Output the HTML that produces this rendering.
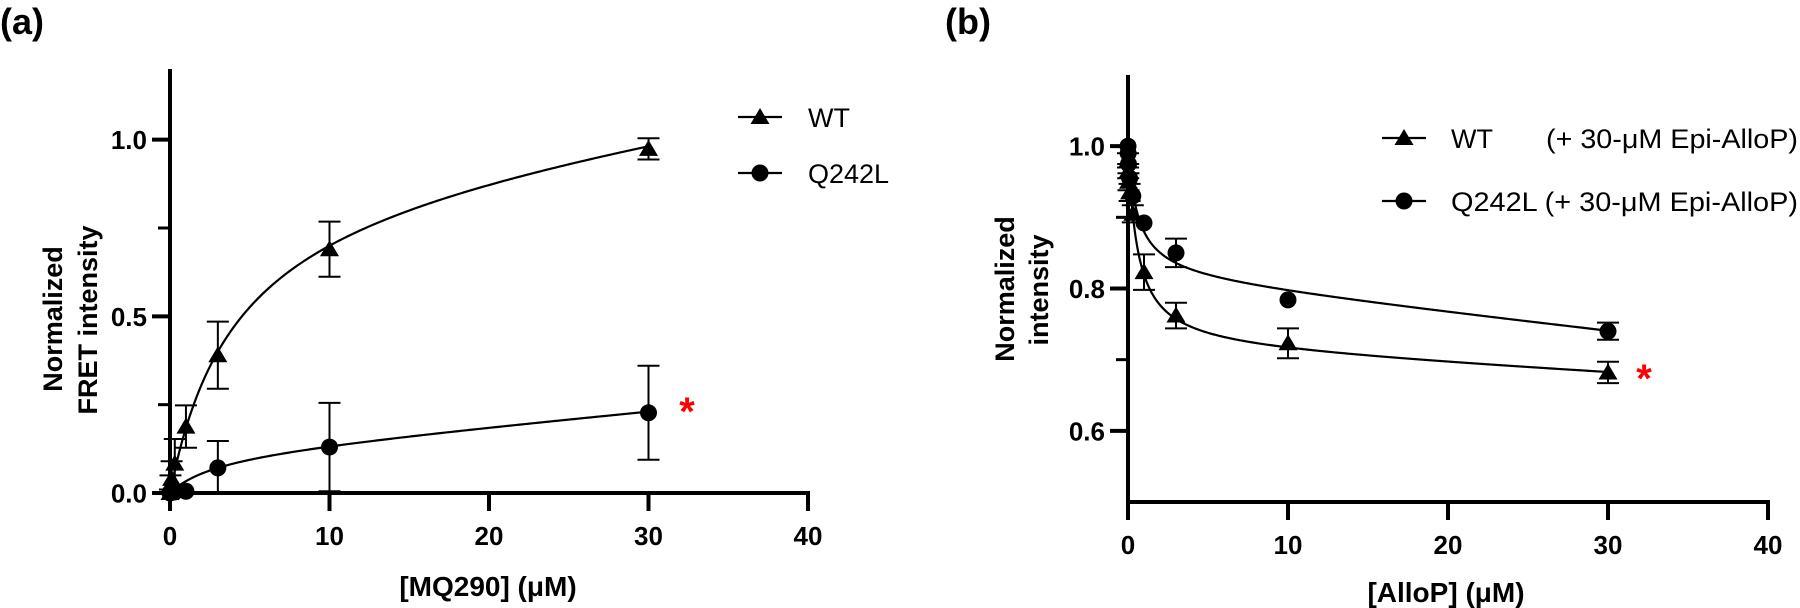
<!DOCTYPE html>
<html><head><meta charset="utf-8"><style>
html,body{margin:0;padding:0;background:#fff;}
svg{display:block;font-family:"Liberation Sans",Arial,sans-serif;}
</style></head><body>
<svg id="fig" width="1800" height="608" viewBox="0 0 1800 608"></svg>
<script>
// ---- Panel (a) data ----
const aConc = [0, 0.03, 0.1, 0.3, 1, 3, 10, 30];
const aWT = [0, 0.02, 0.04, 0.083, 0.188, 0.39, 0.69, 0.974];
const aWTerr = [0.01, 0.03, 0.05, 0.07, 0.06, 0.095, 0.078, 0.03];
const aQ = [0, 0.002, 0.003, 0.003, 0.005, 0.071, 0.13, 0.227];
const aQerr = [0, 0, 0, 0, 0, 0.076, 0.125, 0.133];
const aWTfit = [0.887, 4, 0.00662];   // Bmax, K, slope
const aQfit = [0.1173, 3, 0.00412];
const aXTicks = [0, 10, 20, 30, 40];
const aYTicks = [0, 0.5, 1.0];
const aYTickLabels = ["0.0", "0.5", "1.0"];
// ---- Panel (b) data ----
const bConc = [0, 0.01, 0.03, 0.1, 0.3, 1, 3, 10, 30];
const bWT = [0.98, 0.965, 0.95, 0.935, 0.905, 0.823, 0.762, 0.723, 0.682];
const bWTerr = [0.01, 0.01, 0.012, 0.012, 0.012, 0.025, 0.018, 0.021, 0.015];
const bQ = [1.0, 0.99, 0.975, 0.955, 0.93, 0.892, 0.85, 0.784, 0.74];
const bQerr = [0, 0, 0, 0, 0, 0, 0.02, 0, 0.012];
const bWTfit = [0.287, 0.6, 0.0012];  // A, K, slope
const bQfit = [0.188, 0.6, 0.0025];
const bXTicks = [0, 10, 20, 30, 40];
const bYTicks = [0.6, 0.8, 1.0];
const bYTickLabels = ["0.6", "0.8", "1.0"];

const NS = "http://www.w3.org/2000/svg";
const svg = document.getElementById('fig');
function mk(tag, attrs, parent) {
  const e = document.createElementNS(NS, tag);
  for (const k in attrs) e.setAttribute(k, attrs[k]);
  (parent || svg).appendChild(e);
  return e;
}
function txt(s, attrs, parent) { const t = mk('text', attrs, parent); t.textContent = s; return t; }

function tri(g, cx, cy) {
  return mk('polygon', {points: `${cx},${cy-9} ${cx-9.5},${cy+7} ${cx+9.5},${cy+7}`, fill: '#000'}, g);
}
function circ(g, cx, cy) { return mk('circle', {cx: cx, cy: cy, r: 8.5, fill: '#000'}, g); }

function panel(o) {
  const X = v => o.x0 + (v - o.xmin) / (o.xmax - o.xmin) * (o.x1 - o.x0);
  const Y = v => o.y0 - (v - o.ymin) / (o.ymax - o.ymin) * (o.y0 - o.y1);
  const g = mk('g', {});
  
  
  // axes
  const ya = mk('line', {x1: o.x0, y1: o.y0 + 2, x2: o.x0, y2: o.y1, stroke: '#000', 'stroke-width': 4}, g);
   
  const xa = mk('line', {x1: o.x0 - 2, y1: o.y0, x2: o.x1 + 2, y2: o.y0, stroke: '#000', 'stroke-width': 4}, g);
   
  o.xTicks.forEach(t => {
    mk('line', {x1: X(t), y1: o.y0, x2: X(t), y2: o.y0 + 18, stroke: '#000', 'stroke-width': 4}, g);
    const l = txt(String(t), {x: X(t), y: o.xLabY, 'text-anchor': 'middle', 'font-size': 26, 'font-weight': 'bold'}, g);
     
  });
  o.yMinor.forEach(t => {
    mk('line', {x1: o.x0 - 12, y1: Y(t), x2: o.x0, y2: Y(t), stroke: '#000', 'stroke-width': 3}, g);
  });
  o.yTicks.forEach((t, i) => {
    mk('line', {x1: o.x0 - 18, y1: Y(t), x2: o.x0, y2: Y(t), stroke: '#000', 'stroke-width': 4}, g);
    const l = txt(o.yTickLabels[i], {x: o.x0 - 23, y: Y(t) + 9.5, 'text-anchor': 'end', 'font-size': 26, 'font-weight': 'bold'}, g);
     
  });
  // series
  o.series.forEach(s => {
    const sg = mk('g', {}, g);
    
    
    let d = '';
    for (let i = 0; i <= 300; i++) {
      const x = 30 * Math.pow(i / 300, 2);
      d += (i ? 'L' : 'M') + X(x).toFixed(2) + ',' + Y(s.fn(x)).toFixed(2);
    }
    const c = mk('path', {d: d, fill: 'none', stroke: '#000', 'stroke-width': 2.2}, sg);
     
    o.conc.forEach((x, i) => {
      const e = s.err[i];
      if (e > 0) {
        const lo = Math.max(s.vals[i] - e, o.ymin), hi = s.vals[i] + e;
        const px = X(x);
        mk('line', {x1: px, y1: Y(lo), x2: px, y2: Y(hi), stroke: '#000', 'stroke-width': 2}, sg);
        mk('line', {x1: px - 11, y1: Y(hi), x2: px + 11, y2: Y(hi), stroke: '#000', 'stroke-width': 2}, sg);
        mk('line', {x1: px - 11, y1: Y(lo), x2: px + 11, y2: Y(lo), stroke: '#000', 'stroke-width': 2}, sg);
      }
      const m = s.marker(sg, X(x), Y(s.vals[i]));
      
      
    });
  });
  return {X, Y};
}

panel({name: 'panel-a-plot', x0: 170, x1: 808, y0: 493, y1: 69, xmin: 0, xmax: 40, ymin: 0, ymax: 1.2,
  xTicks: aXTicks, yTicks: aYTicks, yTickLabels: aYTickLabels, yMinor: [0.25, 0.75], xLabY: 545, conc: aConc,
  series: [
    {name: 'series-wt', vals: aWT, err: aWTerr, marker: tri, fn: x => aWTfit[0] * x / (aWTfit[1] + x) + aWTfit[2] * x},
    {name: 'series-q242l', vals: aQ, err: aQerr, marker: circ, fn: x => aQfit[0] * x / (aQfit[1] + x) + aQfit[2] * x}
  ]});

panel({name: 'panel-b-plot', x0: 1128, x1: 1768, y0: 502, y1: 75, xmin: 0, xmax: 40, ymin: 0.5, ymax: 1.1,
  xTicks: bXTicks, yTicks: bYTicks, yTickLabels: bYTickLabels, yMinor: [0.7, 0.9], xLabY: 554, conc: bConc,
  series: [
    {name: 'series-wt-epi', vals: bWT, err: bWTerr, marker: tri, fn: x => 1 - bWTfit[0] * x / (bWTfit[1] + x) - bWTfit[2] * x},
    {name: 'series-q242l-epi', vals: bQ, err: bQerr, marker: circ, fn: x => 1 - bQfit[0] * x / (bQfit[1] + x) - bQfit[2] * x}
  ]});

// legends
function legendEntry(x, y, marker, name) {
  const g = mk('g', {});
  
  
  mk('line', {x1: x - 22, y1: y, x2: x + 22, y2: y, stroke: '#000', 'stroke-width': 2.2}, g);
  marker(g, x, y);
  return g;
}
let g1 = legendEntry(760, 117, tri, 'legend-entry-wt');
txt('WT', {x: 808, y: 127, 'font-size': 27}, g1);
let g2 = legendEntry(760, 173, circ, 'legend-entry-q242l');
txt('Q242L', {x: 808, y: 183, 'font-size': 27}, g2);
let g3 = legendEntry(1404, 138, tri, 'legend-entry-wt-epi');
txt('WT', {x: 1451, y: 148, 'font-size': 27}, g3);
txt('(+ 30-\u03bcM Epi-AlloP)', {x: 1546, y: 148, 'font-size': 27, textLength: 252, lengthAdjust: 'spacingAndGlyphs'}, g3);
let g4 = legendEntry(1404, 201, circ, 'legend-entry-q242l-epi');
txt('Q242L (+ 30-\u03bcM Epi-AlloP)', {x: 1451, y: 211, 'font-size': 27, textLength: 347, lengthAdjust: 'spacingAndGlyphs'}, g4);

// titles & labels
function label(s, attrs, name) { const t = txt(s, attrs);   return t; }
label('(a)', {x: 0, y: 34, 'font-size': 36, 'font-weight': 'bold'}, 'panel-a-label');
label('(b)', {x: 945, y: 34, 'font-size': 36, 'font-weight': 'bold'}, 'panel-b-label');
label('[MQ290] (\u03bcM)', {x: 488, y: 596, 'text-anchor': 'middle', 'font-size': 28, 'font-weight': 'bold'}, 'x-axis-title-a');
label('[AlloP] (\u03bcM)', {x: 1446, y: 602, 'text-anchor': 'middle', 'font-size': 28, 'font-weight': 'bold'}, 'x-axis-title-b');
label('Normalized', {x: 0, y: 0, 'text-anchor': 'middle', 'font-size': 27, 'font-weight': 'bold', transform: 'translate(62,319) rotate(-90)'}, 'y-axis-title-a-line1');
label('FRET intensity', {x: 0, y: 0, 'text-anchor': 'middle', 'font-size': 27, 'font-weight': 'bold', transform: 'translate(97,320) rotate(-90)'}, 'y-axis-title-a-line2');
label('Normalized', {x: 0, y: 0, 'text-anchor': 'middle', 'font-size': 27, 'font-weight': 'bold', transform: 'translate(1014,289) rotate(-90)'}, 'y-axis-title-b-line1');
label('intensity', {x: 0, y: 0, 'text-anchor': 'middle', 'font-size': 27, 'font-weight': 'bold', transform: 'translate(1048,290) rotate(-90)'}, 'y-axis-title-b-line2');
label('*', {x: 687, y: 425, 'text-anchor': 'middle', 'font-size': 40, 'font-weight': 'bold', fill: '#f00'}, 'significance-asterisk-a');
label('*', {x: 1644, y: 392, 'text-anchor': 'middle', 'font-size': 40, 'font-weight': 'bold', fill: '#f00'}, 'significance-asterisk-b');
</script>
</body></html>
